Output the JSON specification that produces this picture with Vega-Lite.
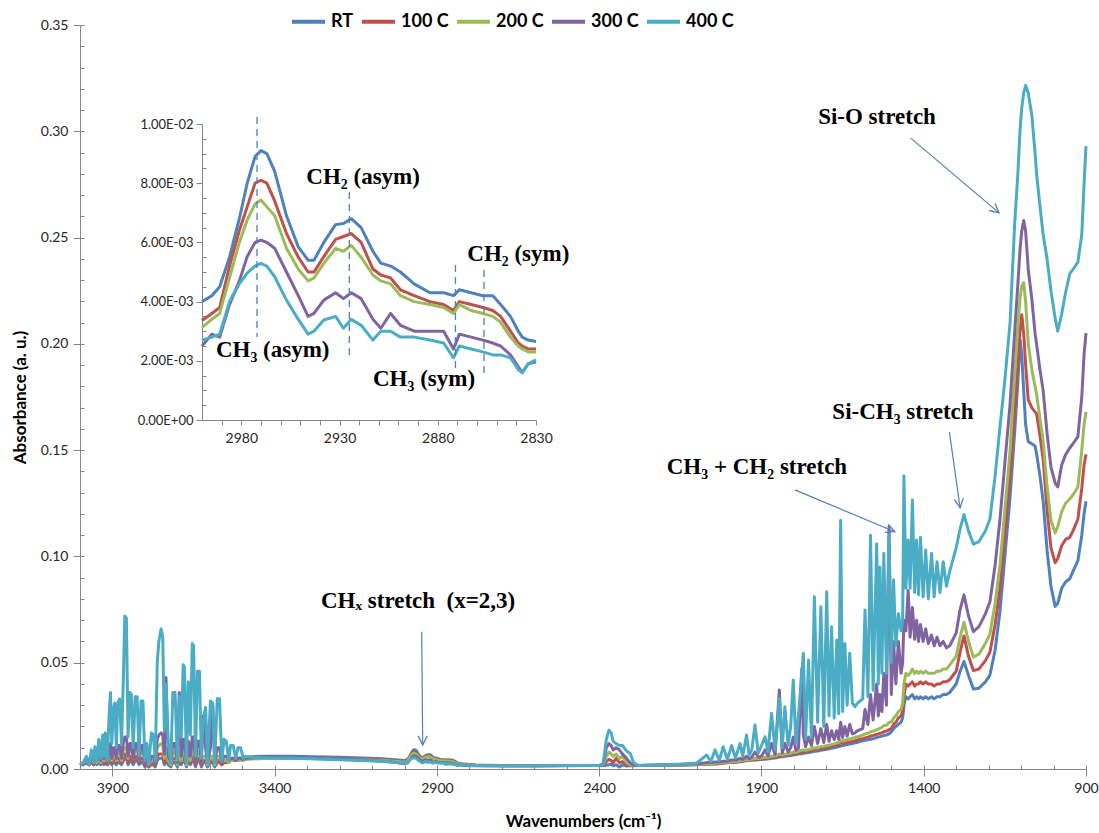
{
  "$schema": "https://vega.github.io/schema/vega-lite/v6.json",
  "width": 1006,
  "height": 744,
  "autosize": "none",
  "padding": {"left": 80, "top": 25, "right": 13, "bottom": 64},
  "background": "white",
  "config": {
    "view": {"stroke": null},
    "axis": {"grid": false, "domainColor": "#868686", "tickColor": "#868686", "labelColor": "#262626", "labelFont": "Lato", "titleFont": "Lato", "titleColor": "#000000", "labelOverlap": false}
  },
  "datasets": {
    "spectra": [
      {"w":4000,"RT":0.002,"100 C":0.002,"200 C":0.002,"300 C":0.002,"400 C":0.002},
      {"w":3990,"RT":0.002,"100 C":0.0025,"200 C":0.003,"300 C":0.003,"400 C":0.003},
      {"w":3980,"RT":0.003,"100 C":0.003,"200 C":0.004,"300 C":0.005,"400 C":0.006},
      {"w":3972,"RT":0.002,"100 C":0.002,"200 C":0.002,"300 C":0.002,"400 C":0.002},
      {"w":3965,"RT":0.003,"100 C":0.004,"200 C":0.005,"300 C":0.006,"400 C":0.009},
      {"w":3958,"RT":0.002,"100 C":0.002,"200 C":0.003,"300 C":0.003,"400 C":0.003},
      {"w":3954,"RT":0.003,"100 C":0.004,"200 C":0.005,"300 C":0.007,"400 C":0.0105},
      {"w":3948,"RT":0.002,"100 C":0.003,"200 C":0.003,"300 C":0.004,"400 C":0.004},
      {"w":3942,"RT":0.003,"100 C":0.004,"200 C":0.006,"300 C":0.008,"400 C":0.014},
      {"w":3936,"RT":0.002,"100 C":0.003,"200 C":0.003,"300 C":0.004,"400 C":0.005},
      {"w":3930,"RT":0.003,"100 C":0.004,"200 C":0.006,"300 C":0.009,"400 C":0.016},
      {"w":3926,"RT":0.002,"100 C":0.003,"200 C":0.004,"300 C":0.005,"400 C":0.006},
      {"w":3922,"RT":0.003,"100 C":0.004,"200 C":0.006,"300 C":0.009,"400 C":0.017},
      {"w":3916,"RT":0.002,"100 C":0.002,"200 C":0.003,"300 C":0.003,"400 C":0.004},
      {"w":3910,"RT":0.003,"100 C":0.005,"200 C":0.007,"300 C":0.010,"400 C":0.026},
      {"w":3906,"RT":0.004,"100 C":0.006,"200 C":0.008,"300 C":0.012,"400 C":0.036},
      {"w":3902,"RT":0.002,"100 C":0.003,"200 C":0.004,"300 C":0.005,"400 C":0.012},
      {"w":3897,"RT":0.003,"100 C":0.005,"200 C":0.007,"300 C":0.010,"400 C":0.028},
      {"w":3893,"RT":0.003,"100 C":0.005,"200 C":0.007,"300 C":0.010,"400 C":0.031},
      {"w":3888,"RT":0.002,"100 C":0.003,"200 C":0.004,"300 C":0.005,"400 C":0.010},
      {"w":3884,"RT":0.003,"100 C":0.005,"200 C":0.008,"300 C":0.011,"400 C":0.031},
      {"w":3878,"RT":0.003,"100 C":0.005,"200 C":0.008,"300 C":0.011,"400 C":0.033},
      {"w":3872,"RT":0.002,"100 C":0.003,"200 C":0.004,"300 C":0.005,"400 C":0.012},
      {"w":3866,"RT":0.004,"100 C":0.006,"200 C":0.009,"300 C":0.013,"400 C":0.045},
      {"w":3862,"RT":0.005,"100 C":0.007,"200 C":0.010,"300 C":0.015,"400 C":0.072},
      {"w":3857,"RT":0.005,"100 C":0.007,"200 C":0.010,"300 C":0.015,"400 C":0.071},
      {"w":3852,"RT":0.002,"100 C":0.003,"200 C":0.005,"300 C":0.006,"400 C":0.015},
      {"w":3846,"RT":0.004,"100 C":0.006,"200 C":0.010,"300 C":0.012,"400 C":0.036},
      {"w":3842,"RT":0.004,"100 C":0.006,"200 C":0.010,"300 C":0.012,"400 C":0.035},
      {"w":3836,"RT":0.002,"100 C":0.003,"200 C":0.005,"300 C":0.005,"400 C":0.010},
      {"w":3830,"RT":0.004,"100 C":0.006,"200 C":0.010,"300 C":0.012,"400 C":0.034},
      {"w":3824,"RT":0.004,"100 C":0.006,"200 C":0.010,"300 C":0.012,"400 C":0.034},
      {"w":3818,"RT":0.002,"100 C":0.003,"200 C":0.004,"300 C":0.004,"400 C":0.006},
      {"w":3812,"RT":0.003,"100 C":0.005,"200 C":0.009,"300 C":0.011,"400 C":0.032},
      {"w":3806,"RT":0.003,"100 C":0.005,"200 C":0.009,"300 C":0.011,"400 C":0.032},
      {"w":3800,"RT":0.001,"100 C":0.002,"200 C":0.003,"300 C":0.003,"400 C":0.004},
      {"w":3794,"RT":0.002,"100 C":0.003,"200 C":0.004,"300 C":0.005,"400 C":0.012},
      {"w":3788,"RT":0.001,"100 C":0.001,"200 C":0.002,"300 C":0.002,"400 C":0.002},
      {"w":3780,"RT":0.002,"100 C":0.003,"200 C":0.004,"300 C":0.006,"400 C":0.017},
      {"w":3774,"RT":0.002,"100 C":0.003,"200 C":0.004,"300 C":0.006,"400 C":0.016},
      {"w":3768,"RT":0.001,"100 C":0.002,"200 C":0.003,"300 C":0.003,"400 C":0.004},
      {"w":3762,"RT":0.004,"100 C":0.006,"200 C":0.010,"300 C":0.014,"400 C":0.050},
      {"w":3757,"RT":0.005,"100 C":0.007,"200 C":0.011,"300 C":0.016,"400 C":0.060},
      {"w":3750,"RT":0.005,"100 C":0.007,"200 C":0.012,"300 C":0.017,"400 C":0.066},
      {"w":3745,"RT":0.005,"100 C":0.007,"200 C":0.011,"300 C":0.016,"400 C":0.062},
      {"w":3740,"RT":0.002,"100 C":0.003,"200 C":0.005,"300 C":0.007,"400 C":0.018},
      {"w":3735,"RT":0.004,"100 C":0.006,"200 C":0.010,"300 C":0.043,"400 C":0.040},
      {"w":3728,"RT":0.002,"100 C":0.003,"200 C":0.004,"300 C":0.006,"400 C":0.012},
      {"w":3720,"RT":0.001,"100 C":0.002,"200 C":0.002,"300 C":0.003,"400 C":0.003},
      {"w":3714,"RT":0.003,"100 C":0.005,"200 C":0.008,"300 C":0.012,"400 C":0.036},
      {"w":3707,"RT":0.003,"100 C":0.005,"200 C":0.008,"300 C":0.012,"400 C":0.036},
      {"w":3700,"RT":0.001,"100 C":0.002,"200 C":0.002,"300 C":0.003,"400 C":0.004},
      {"w":3694,"RT":0.003,"100 C":0.005,"200 C":0.008,"300 C":0.036,"400 C":0.034},
      {"w":3688,"RT":0.002,"100 C":0.003,"200 C":0.004,"300 C":0.006,"400 C":0.015},
      {"w":3682,"RT":0.004,"100 C":0.006,"200 C":0.009,"300 C":0.014,"400 C":0.049},
      {"w":3678,"RT":0.004,"100 C":0.006,"200 C":0.009,"300 C":0.014,"400 C":0.048},
      {"w":3672,"RT":0.001,"100 C":0.002,"200 C":0.002,"300 C":0.003,"400 C":0.003},
      {"w":3666,"RT":0.004,"100 C":0.005,"200 C":0.008,"300 C":0.013,"400 C":0.041},
      {"w":3660,"RT":0.002,"100 C":0.003,"200 C":0.004,"300 C":0.006,"400 C":0.016},
      {"w":3654,"RT":0.004,"100 C":0.006,"200 C":0.010,"300 C":0.015,"400 C":0.059},
      {"w":3650,"RT":0.004,"100 C":0.006,"200 C":0.010,"300 C":0.015,"400 C":0.058},
      {"w":3644,"RT":0.001,"100 C":0.002,"200 C":0.003,"300 C":0.003,"400 C":0.006},
      {"w":3638,"RT":0.004,"100 C":0.005,"200 C":0.008,"300 C":0.013,"400 C":0.046},
      {"w":3632,"RT":0.004,"100 C":0.005,"200 C":0.008,"300 C":0.013,"400 C":0.046},
      {"w":3626,"RT":0.001,"100 C":0.002,"200 C":0.003,"300 C":0.003,"400 C":0.005},
      {"w":3621,"RT":0.003,"100 C":0.004,"200 C":0.006,"300 C":0.025,"400 C":0.022},
      {"w":3613,"RT":0.003,"100 C":0.004,"200 C":0.006,"300 C":0.010,"400 C":0.029},
      {"w":3607,"RT":0.001,"100 C":0.002,"200 C":0.002,"300 C":0.003,"400 C":0.003},
      {"w":3598,"RT":0.003,"100 C":0.004,"200 C":0.006,"300 C":0.010,"400 C":0.032},
      {"w":3591,"RT":0.003,"100 C":0.004,"200 C":0.006,"300 C":0.030,"400 C":0.031},
      {"w":3585,"RT":0.001,"100 C":0.002,"200 C":0.002,"300 C":0.003,"400 C":0.003},
      {"w":3577,"RT":0.003,"100 C":0.004,"200 C":0.006,"300 C":0.010,"400 C":0.033},
      {"w":3570,"RT":0.003,"100 C":0.004,"200 C":0.006,"300 C":0.010,"400 C":0.033},
      {"w":3563,"RT":0.002,"100 C":0.002,"200 C":0.003,"300 C":0.003,"400 C":0.004},
      {"w":3556,"RT":0.003,"100 C":0.003,"200 C":0.004,"300 C":0.006,"400 C":0.014},
      {"w":3549,"RT":0.003,"100 C":0.003,"200 C":0.004,"300 C":0.006,"400 C":0.013},
      {"w":3542,"RT":0.003,"100 C":0.003,"200 C":0.003,"300 C":0.004,"400 C":0.004},
      {"w":3536,"RT":0.004,"100 C":0.004,"200 C":0.004,"300 C":0.005,"400 C":0.011},
      {"w":3528,"RT":0.004,"100 C":0.004,"200 C":0.004,"300 C":0.005,"400 C":0.011},
      {"w":3520,"RT":0.004,"100 C":0.004,"200 C":0.004,"300 C":0.004,"400 C":0.005},
      {"w":3513,"RT":0.005,"100 C":0.004,"200 C":0.004,"300 C":0.005,"400 C":0.010},
      {"w":3505,"RT":0.005,"100 C":0.004,"200 C":0.004,"300 C":0.005,"400 C":0.010},
      {"w":3497,"RT":0.005,"100 C":0.0045,"200 C":0.004,"300 C":0.0045,"400 C":0.005},
      {"w":3490,"RT":0.0055,"100 C":0.005,"200 C":0.0045,"300 C":0.005,"400 C":0.006},
      {"w":3470,"RT":0.0058,"100 C":0.005,"200 C":0.0047,"300 C":0.0052,"400 C":0.0055},
      {"w":3420,"RT":0.006,"100 C":0.0052,"200 C":0.005,"300 C":0.0055,"400 C":0.0052},
      {"w":3350,"RT":0.006,"100 C":0.0052,"200 C":0.005,"300 C":0.0053,"400 C":0.005},
      {"w":3280,"RT":0.0058,"100 C":0.005,"200 C":0.0048,"300 C":0.005,"400 C":0.0048},
      {"w":3200,"RT":0.0055,"100 C":0.0048,"200 C":0.0045,"300 C":0.0046,"400 C":0.0044},
      {"w":3130,"RT":0.0052,"100 C":0.0046,"200 C":0.0043,"300 C":0.0042,"400 C":0.004},
      {"w":3070,"RT":0.0048,"100 C":0.0043,"200 C":0.004,"300 C":0.0037,"400 C":0.0036},
      {"w":3030,"RT":0.0044,"100 C":0.0039,"200 C":0.0037,"300 C":0.0032,"400 C":0.0032},
      {"w":3000,"RT":0.004,"100 C":0.00336,"200 C":0.00313,"300 C":0.0025,"400 C":0.0027},
      {"w":2995,"RT":0.0042,"100 C":0.0036,"200 C":0.0034,"300 C":0.0029,"400 C":0.0028},
      {"w":2991,"RT":0.0045,"100 C":0.0038,"200 C":0.0036,"300 C":0.0028,"400 C":0.0029},
      {"w":2986,"RT":0.0055,"100 C":0.0052,"200 C":0.0048,"300 C":0.0039,"400 C":0.004},
      {"w":2981,"RT":0.0068,"100 C":0.0064,"200 C":0.006,"300 C":0.0047,"400 C":0.0046},
      {"w":2977,"RT":0.008,"100 C":0.0072,"200 C":0.00676,"300 C":0.00552,"400 C":0.00496},
      {"w":2973,"RT":0.0089,"100 C":0.008,"200 C":0.0073,"300 C":0.006,"400 C":0.0052},
      {"w":2970,"RT":0.0091,"100 C":0.0081,"200 C":0.00743,"300 C":0.00608,"400 C":0.00529},
      {"w":2967,"RT":0.009,"100 C":0.008,"200 C":0.0072,"300 C":0.006,"400 C":0.0052},
      {"w":2963,"RT":0.0084,"100 C":0.0074,"200 C":0.0069,"300 C":0.0058,"400 C":0.00484},
      {"w":2957,"RT":0.0069,"100 C":0.0063,"200 C":0.0058,"300 C":0.005,"400 C":0.00405},
      {"w":2951,"RT":0.00585,"100 C":0.0055,"200 C":0.0051,"300 C":0.0042,"400 C":0.0034},
      {"w":2946,"RT":0.0054,"100 C":0.005,"200 C":0.0047,"300 C":0.0035,"400 C":0.0029},
      {"w":2943,"RT":0.0054,"100 C":0.005,"200 C":0.0048,"300 C":0.0036,"400 C":0.003},
      {"w":2938,"RT":0.006,"100 C":0.00552,"200 C":0.00529,"300 C":0.00405,"400 C":0.00338},
      {"w":2932,"RT":0.0066,"100 C":0.0061,"200 C":0.0058,"300 C":0.0043,"400 C":0.0035},
      {"w":2928,"RT":0.00664,"100 C":0.0062,"200 C":0.0057,"300 C":0.0041,"400 C":0.0031},
      {"w":2924,"RT":0.0068,"100 C":0.0063,"200 C":0.0059,"300 C":0.0043,"400 C":0.0034},
      {"w":2919,"RT":0.0065,"100 C":0.006,"200 C":0.0055,"300 C":0.0041,"400 C":0.0032},
      {"w":2913,"RT":0.0057,"100 C":0.0051,"200 C":0.0049,"300 C":0.0034,"400 C":0.0027},
      {"w":2909,"RT":0.0053,"100 C":0.0049,"200 C":0.0047,"300 C":0.0031,"400 C":0.003},
      {"w":2904,"RT":0.0052,"100 C":0.0048,"200 C":0.0046,"300 C":0.0036,"400 C":0.003},
      {"w":2899,"RT":0.005,"100 C":0.0044,"200 C":0.0042,"300 C":0.0032,"400 C":0.0028},
      {"w":2892,"RT":0.0046,"100 C":0.0042,"200 C":0.004,"300 C":0.003,"400 C":0.0028},
      {"w":2884,"RT":0.0043,"100 C":0.004,"200 C":0.0039,"300 C":0.003,"400 C":0.0027},
      {"w":2877,"RT":0.0043,"100 C":0.0039,"200 C":0.0038,"300 C":0.003,"400 C":0.0026},
      {"w":2872,"RT":0.0042,"100 C":0.0037,"200 C":0.0036,"300 C":0.0024,"400 C":0.0021},
      {"w":2869,"RT":0.0044,"100 C":0.004,"200 C":0.0039,"300 C":0.0029,"400 C":0.0025},
      {"w":2863,"RT":0.0043,"100 C":0.0039,"200 C":0.0037,"300 C":0.0028,"400 C":0.0024},
      {"w":2857,"RT":0.0042,"100 C":0.0038,"200 C":0.0036,"300 C":0.0027,"400 C":0.0023},
      {"w":2852,"RT":0.0042,"100 C":0.0037,"200 C":0.0035,"300 C":0.0026,"400 C":0.0022},
      {"w":2848,"RT":0.0039,"100 C":0.0035,"200 C":0.0033,"300 C":0.0025,"400 C":0.0022},
      {"w":2843,"RT":0.0035,"100 C":0.003,"200 C":0.0028,"300 C":0.0022,"400 C":0.0021},
      {"w":2839,"RT":0.003,"100 C":0.0026,"200 C":0.0025,"300 C":0.0018,"400 C":0.0017},
      {"w":2837,"RT":0.0028,"100 C":0.0025,"200 C":0.0024,"300 C":0.0016,"400 C":0.0016},
      {"w":2834,"RT":0.0027,"100 C":0.0024,"200 C":0.0023,"300 C":0.0019,"400 C":0.0019},
      {"w":2830,"RT":0.00265,"100 C":0.0024,"200 C":0.0023,"300 C":0.00197,"400 C":0.00203},
      {"w":2815,"RT":0.0023,"100 C":0.0021,"200 C":0.002,"300 C":0.0017,"400 C":0.0018},
      {"w":2780,"RT":0.0019,"100 C":0.0018,"200 C":0.0017,"300 C":0.0015,"400 C":0.0016},
      {"w":2700,"RT":0.0017,"100 C":0.0016,"200 C":0.0016,"300 C":0.0014,"400 C":0.0015},
      {"w":2600,"RT":0.0016,"100 C":0.0016,"200 C":0.0015,"300 C":0.0014,"400 C":0.0015},
      {"w":2500,"RT":0.0016,"100 C":0.0016,"200 C":0.0016,"300 C":0.0015,"400 C":0.0016},
      {"w":2400,"RT":0.0016,"100 C":0.0016,"200 C":0.0016,"300 C":0.0016,"400 C":0.0017},
      {"w":2388,"RT":0.0016,"100 C":0.0017,"200 C":0.0018,"300 C":0.002,"400 C":0.0025},
      {"w":2378,"RT":0.0018,"100 C":0.0035,"200 C":0.006,"300 C":0.01,"400 C":0.014},
      {"w":2370,"RT":0.002,"100 C":0.0045,"200 C":0.008,"300 C":0.012,"400 C":0.0183},
      {"w":2363,"RT":0.0022,"100 C":0.004,"200 C":0.007,"300 C":0.011,"400 C":0.017},
      {"w":2357,"RT":0.0015,"100 C":0.003,"200 C":0.006,"300 C":0.009,"400 C":0.013},
      {"w":2348,"RT":0.002,"100 C":0.005,"200 C":0.007,"300 C":0.01,"400 C":0.012},
      {"w":2338,"RT":0.001,"100 C":0.003,"200 C":0.005,"300 C":0.009,"400 C":0.011},
      {"w":2328,"RT":0.002,"100 C":0.0035,"200 C":0.006,"300 C":0.007,"400 C":0.011},
      {"w":2316,"RT":0.0014,"100 C":0.002,"200 C":0.003,"300 C":0.005,"400 C":0.0085},
      {"w":2305,"RT":0.0015,"100 C":0.0017,"200 C":0.002,"300 C":0.003,"400 C":0.0074},
      {"w":2294,"RT":0.0015,"100 C":0.0016,"200 C":0.0017,"300 C":0.0018,"400 C":0.003},
      {"w":2280,"RT":0.0016,"100 C":0.0016,"200 C":0.0016,"300 C":0.0016,"400 C":0.0017},
      {"w":2200,"RT":0.0018,"100 C":0.0018,"200 C":0.0018,"300 C":0.0019,"400 C":0.002},
      {"w":2140,"RT":0.0019,"100 C":0.0019,"200 C":0.002,"300 C":0.0022,"400 C":0.0024},
      {"w":2100,"RT":0.002,"100 C":0.0021,"200 C":0.0022,"300 C":0.0025,"400 C":0.0028},
      {"w":2069,"RT":0.0022,"100 C":0.0023,"200 C":0.0025,"300 C":0.003,"400 C":0.0066},
      {"w":2056,"RT":0.0023,"100 C":0.0024,"200 C":0.0026,"300 C":0.003,"400 C":0.0035},
      {"w":2043,"RT":0.0024,"100 C":0.0025,"200 C":0.0027,"300 C":0.0033,"400 C":0.009},
      {"w":2030,"RT":0.0025,"100 C":0.0026,"200 C":0.0028,"300 C":0.0033,"400 C":0.004},
      {"w":2018,"RT":0.0027,"100 C":0.0028,"200 C":0.003,"300 C":0.0036,"400 C":0.0105},
      {"w":2005,"RT":0.0029,"100 C":0.003,"200 C":0.0032,"300 C":0.0037,"400 C":0.0045},
      {"w":1992,"RT":0.003,"100 C":0.0031,"200 C":0.0034,"300 C":0.0042,"400 C":0.011},
      {"w":1980,"RT":0.0032,"100 C":0.0033,"200 C":0.0036,"300 C":0.0042,"400 C":0.0052},
      {"w":1966,"RT":0.0034,"100 C":0.0036,"200 C":0.0039,"300 C":0.005,"400 C":0.012},
      {"w":1958,"RT":0.0035,"100 C":0.0037,"200 C":0.004,"300 C":0.0045,"400 C":0.006},
      {"w":1946,"RT":0.004,"100 C":0.0042,"200 C":0.0046,"300 C":0.006,"400 C":0.016},
      {"w":1938,"RT":0.004,"100 C":0.0042,"200 C":0.0044,"300 C":0.0048,"400 C":0.0065},
      {"w":1930,"RT":0.0041,"100 C":0.0043,"200 C":0.0046,"300 C":0.0055,"400 C":0.009},
      {"w":1920,"RT":0.0042,"100 C":0.0045,"200 C":0.005,"300 C":0.008,"400 C":0.0207},
      {"w":1910,"RT":0.0043,"100 C":0.0046,"200 C":0.0049,"300 C":0.0055,"400 C":0.0075},
      {"w":1900,"RT":0.0045,"100 C":0.0048,"200 C":0.0052,"300 C":0.006,"400 C":0.011},
      {"w":1889,"RT":0.0046,"100 C":0.005,"200 C":0.0056,"300 C":0.009,"400 C":0.0152},
      {"w":1880,"RT":0.0047,"100 C":0.005,"200 C":0.0054,"300 C":0.0062,"400 C":0.008},
      {"w":1869,"RT":0.005,"100 C":0.0054,"200 C":0.006,"300 C":0.012,"400 C":0.0262},
      {"w":1858,"RT":0.0052,"100 C":0.0056,"200 C":0.0061,"300 C":0.0068,"400 C":0.009},
      {"w":1845,"RT":0.0056,"100 C":0.006,"200 C":0.007,"300 C":0.0372,"400 C":0.033},
      {"w":1836,"RT":0.0058,"100 C":0.0062,"200 C":0.0066,"300 C":0.0075,"400 C":0.01},
      {"w":1828,"RT":0.006,"100 C":0.0065,"200 C":0.007,"300 C":0.012,"400 C":0.0293},
      {"w":1818,"RT":0.0062,"100 C":0.0067,"200 C":0.0072,"300 C":0.008,"400 C":0.011},
      {"w":1810,"RT":0.0064,"100 C":0.0069,"200 C":0.0075,"300 C":0.01,"400 C":0.02},
      {"w":1802,"RT":0.0066,"100 C":0.0072,"200 C":0.008,"300 C":0.015,"400 C":0.0419},
      {"w":1794,"RT":0.0068,"100 C":0.0073,"200 C":0.0078,"300 C":0.0088,"400 C":0.012},
      {"w":1786,"RT":0.007,"100 C":0.0076,"200 C":0.0083,"300 C":0.0098,"400 C":0.025},
      {"w":1776,"RT":0.0072,"100 C":0.0079,"200 C":0.0088,"300 C":0.047,"400 C":0.045},
      {"w":1771,"RT":0.0074,"100 C":0.008,"200 C":0.009,"300 C":0.016,"400 C":0.0544},
      {"w":1764,"RT":0.0075,"100 C":0.0081,"200 C":0.0088,"300 C":0.0105,"400 C":0.014},
      {"w":1755,"RT":0.0078,"100 C":0.0084,"200 C":0.0092,"300 C":0.015,"400 C":0.0513},
      {"w":1746,"RT":0.008,"100 C":0.0087,"200 C":0.0095,"300 C":0.011,"400 C":0.015},
      {"w":1737,"RT":0.0083,"100 C":0.009,"200 C":0.01,"300 C":0.02,"400 C":0.081},
      {"w":1727,"RT":0.0085,"100 C":0.0093,"200 C":0.01,"300 C":0.012,"400 C":0.022},
      {"w":1717,"RT":0.0088,"100 C":0.0096,"200 C":0.0105,"300 C":0.019,"400 C":0.0763},
      {"w":1708,"RT":0.009,"100 C":0.0098,"200 C":0.0107,"300 C":0.0125,"400 C":0.02},
      {"w":1699,"RT":0.0093,"100 C":0.01,"200 C":0.011,"300 C":0.021,"400 C":0.0834},
      {"w":1692,"RT":0.0095,"100 C":0.0103,"200 C":0.0112,"300 C":0.013,"400 C":0.025},
      {"w":1684,"RT":0.0098,"100 C":0.0106,"200 C":0.0116,"300 C":0.018,"400 C":0.0669},
      {"w":1676,"RT":0.01,"100 C":0.0108,"200 C":0.0118,"300 C":0.0138,"400 C":0.024},
      {"w":1668,"RT":0.0103,"100 C":0.0112,"200 C":0.0123,"300 C":0.018,"400 C":0.0607},
      {"w":1662,"RT":0.0105,"100 C":0.0114,"200 C":0.0125,"300 C":0.014,"400 C":0.026},
      {"w":1656,"RT":0.0108,"100 C":0.0125,"200 C":0.0135,"300 C":0.022,"400 C":0.117},
      {"w":1650,"RT":0.011,"100 C":0.012,"200 C":0.0132,"300 C":0.0148,"400 C":0.027},
      {"w":1643,"RT":0.0113,"100 C":0.0123,"200 C":0.0135,"300 C":0.02,"400 C":0.059},
      {"w":1636,"RT":0.0115,"100 C":0.0125,"200 C":0.0138,"300 C":0.0155,"400 C":0.03},
      {"w":1628,"RT":0.0118,"100 C":0.0128,"200 C":0.0142,"300 C":0.021,"400 C":0.0544},
      {"w":1620,"RT":0.012,"100 C":0.013,"200 C":0.0145,"300 C":0.0165,"400 C":0.031},
      {"w":1612,"RT":0.0123,"100 C":0.0133,"200 C":0.0148,"300 C":0.017,"400 C":0.0293},
      {"w":1604,"RT":0.0126,"100 C":0.0137,"200 C":0.0152,"300 C":0.018,"400 C":0.031},
      {"w":1596,"RT":0.013,"100 C":0.014,"200 C":0.0155,"300 C":0.0185,"400 C":0.032},
      {"w":1588,"RT":0.0133,"100 C":0.0143,"200 C":0.016,"300 C":0.019,"400 C":0.033},
      {"w":1581,"RT":0.0135,"100 C":0.0146,"200 C":0.0165,"300 C":0.028,"400 C":0.0748},
      {"w":1572,"RT":0.0138,"100 C":0.015,"200 C":0.0168,"300 C":0.021,"400 C":0.034},
      {"w":1564,"RT":0.014,"100 C":0.0155,"200 C":0.0175,"300 C":0.035,"400 C":0.11},
      {"w":1556,"RT":0.0143,"100 C":0.0158,"200 C":0.0178,"300 C":0.023,"400 C":0.037},
      {"w":1545,"RT":0.0148,"100 C":0.0163,"200 C":0.0185,"300 C":0.04,"400 C":0.106},
      {"w":1540,"RT":0.015,"100 C":0.0165,"200 C":0.0187,"300 C":0.025,"400 C":0.04},
      {"w":1535,"RT":0.0152,"100 C":0.0168,"200 C":0.0192,"300 C":0.035,"400 C":0.095},
      {"w":1529,"RT":0.0155,"100 C":0.017,"200 C":0.0195,"300 C":0.027,"400 C":0.045},
      {"w":1523,"RT":0.0158,"100 C":0.0175,"200 C":0.0205,"300 C":0.045,"400 C":0.1015},
      {"w":1515,"RT":0.016,"100 C":0.0178,"200 C":0.0205,"300 C":0.03,"400 C":0.045},
      {"w":1507,"RT":0.0165,"100 C":0.0185,"200 C":0.022,"300 C":0.114,"400 C":0.11},
      {"w":1500,"RT":0.0175,"100 C":0.019,"200 C":0.022,"300 C":0.035,"400 C":0.05},
      {"w":1493,"RT":0.019,"100 C":0.021,"200 C":0.024,"300 C":0.06,"400 C":0.089},
      {"w":1486,"RT":0.02,"100 C":0.022,"200 C":0.025,"300 C":0.04,"400 C":0.058},
      {"w":1478,"RT":0.021,"100 C":0.024,"200 C":0.027,"300 C":0.06,"400 C":0.073},
      {"w":1470,"RT":0.022,"100 C":0.025,"200 C":0.028,"300 C":0.045,"400 C":0.065},
      {"w":1465,"RT":0.024,"100 C":0.027,"200 C":0.031,"300 C":0.05,"400 C":0.07},
      {"w":1461,"RT":0.03,"100 C":0.034,"200 C":0.04,"300 C":0.07,"400 C":0.138},
      {"w":1455,"RT":0.034,"100 C":0.04,"200 C":0.045,"300 C":0.065,"400 C":0.085},
      {"w":1448,"RT":0.033,"100 C":0.039,"200 C":0.044,"300 C":0.084,"400 C":0.1077},
      {"w":1442,"RT":0.034,"100 C":0.04,"200 C":0.045,"300 C":0.062,"400 C":0.085},
      {"w":1435,"RT":0.035,"100 C":0.041,"200 C":0.047,"300 C":0.076,"400 C":0.1265},
      {"w":1428,"RT":0.033,"100 C":0.039,"200 C":0.045,"300 C":0.061,"400 C":0.083},
      {"w":1422,"RT":0.034,"100 C":0.04,"200 C":0.046,"300 C":0.07,"400 C":0.1077},
      {"w":1416,"RT":0.033,"100 C":0.04,"200 C":0.045,"300 C":0.06,"400 C":0.082},
      {"w":1410,"RT":0.034,"100 C":0.041,"200 C":0.046,"300 C":0.068,"400 C":0.109},
      {"w":1402,"RT":0.033,"100 C":0.04,"200 C":0.045,"300 C":0.06,"400 C":0.081},
      {"w":1394,"RT":0.034,"100 C":0.041,"200 C":0.046,"300 C":0.066,"400 C":0.103},
      {"w":1386,"RT":0.033,"100 C":0.04,"200 C":0.045,"300 C":0.059,"400 C":0.08},
      {"w":1376,"RT":0.034,"100 C":0.04,"200 C":0.045,"300 C":0.063,"400 C":0.1015},
      {"w":1368,"RT":0.033,"100 C":0.039,"200 C":0.045,"300 C":0.058,"400 C":0.081},
      {"w":1359,"RT":0.034,"100 C":0.04,"200 C":0.046,"300 C":0.062,"400 C":0.0975},
      {"w":1350,"RT":0.034,"100 C":0.04,"200 C":0.046,"300 C":0.058,"400 C":0.083},
      {"w":1340,"RT":0.035,"100 C":0.041,"200 C":0.047,"300 C":0.06,"400 C":0.0975},
      {"w":1330,"RT":0.035,"100 C":0.041,"200 C":0.047,"300 C":0.057,"400 C":0.086},
      {"w":1320,"RT":0.036,"100 C":0.042,"200 C":0.049,"300 C":0.058,"400 C":0.093},
      {"w":1300,"RT":0.04,"100 C":0.046,"200 C":0.053,"300 C":0.064,"400 C":0.104},
      {"w":1288,"RT":0.046,"100 C":0.055,"200 C":0.062,"300 C":0.075,"400 C":0.113},
      {"w":1276,"RT":0.0506,"100 C":0.0626,"200 C":0.069,"300 C":0.0819,"400 C":0.1197},
      {"w":1262,"RT":0.044,"100 C":0.053,"200 C":0.06,"300 C":0.072,"400 C":0.112},
      {"w":1247,"RT":0.0376,"100 C":0.0463,"200 C":0.0527,"300 C":0.0646,"400 C":0.1058},
      {"w":1230,"RT":0.038,"100 C":0.047,"200 C":0.054,"300 C":0.067,"400 C":0.107},
      {"w":1210,"RT":0.041,"100 C":0.051,"200 C":0.059,"300 C":0.073,"400 C":0.112},
      {"w":1196,"RT":0.0442,"100 C":0.055,"200 C":0.0635,"300 C":0.0787,"400 C":0.1176},
      {"w":1180,"RT":0.056,"100 C":0.068,"200 C":0.078,"300 C":0.096,"400 C":0.138},
      {"w":1165,"RT":0.0743,"100 C":0.085,"200 C":0.096,"300 C":0.1176,"400 C":0.161},
      {"w":1150,"RT":0.1,"100 C":0.111,"200 C":0.122,"300 C":0.144,"400 C":0.183},
      {"w":1134,"RT":0.128,"100 C":0.139,"200 C":0.15,"300 C":0.1717,"400 C":0.21},
      {"w":1120,"RT":0.158,"100 C":0.168,"200 C":0.185,"300 C":0.205,"400 C":0.256},
      {"w":1110,"RT":0.182,"100 C":0.19,"200 C":0.208,"300 C":0.228,"400 C":0.28},
      {"w":1103,"RT":0.2018,"100 C":0.207,"200 C":0.222,"300 C":0.245,"400 C":0.301},
      {"w":1098,"RT":0.195,"100 C":0.2137,"200 C":0.227,"300 C":0.253,"400 C":0.311},
      {"w":1092,"RT":0.178,"100 C":0.205,"200 C":0.2288,"300 C":0.258,"400 C":0.318},
      {"w":1086,"RT":0.162,"100 C":0.19,"200 C":0.22,"300 C":0.253,"400 C":0.3216},
      {"w":1078,"RT":0.154,"100 C":0.1737,"200 C":0.2,"300 C":0.235,"400 C":0.318},
      {"w":1067,"RT":0.153,"100 C":0.17,"200 C":0.188,"300 C":0.2212,"400 C":0.3077},
      {"w":1057,"RT":0.152,"100 C":0.168,"200 C":0.18,"300 C":0.205,"400 C":0.29},
      {"w":1052,"RT":0.148,"100 C":0.167,"200 C":0.176,"300 C":0.1996,"400 C":0.2795},
      {"w":1042,"RT":0.138,"100 C":0.157,"200 C":0.165,"300 C":0.188,"400 C":0.265},
      {"w":1032,"RT":0.126,"100 C":0.1456,"200 C":0.154,"300 C":0.178,"400 C":0.2514},
      {"w":1020,"RT":0.103,"100 C":0.122,"200 C":0.133,"300 C":0.158,"400 C":0.24},
      {"w":1008,"RT":0.086,"100 C":0.104,"200 C":0.117,"300 C":0.142,"400 C":0.225},
      {"w":995,"RT":0.0765,"100 C":0.097,"200 C":0.111,"300 C":0.1345,"400 C":0.212},
      {"w":987,"RT":0.078,"100 C":0.099,"200 C":0.114,"300 C":0.1327,"400 C":0.206},
      {"w":975,"RT":0.085,"100 C":0.105,"200 C":0.121,"300 C":0.143,"400 C":0.214},
      {"w":963,"RT":0.088,"100 C":0.108,"200 C":0.125,"300 C":0.1478,"400 C":0.224},
      {"w":950,"RT":0.0895,"100 C":0.109,"200 C":0.127,"300 C":0.151,"400 C":0.233},
      {"w":940,"RT":0.093,"100 C":0.112,"200 C":0.129,"300 C":0.153,"400 C":0.235},
      {"w":925,"RT":0.098,"100 C":0.1176,"200 C":0.1327,"300 C":0.1564,"400 C":0.2385},
      {"w":913,"RT":0.11,"100 C":0.132,"200 C":0.15,"300 C":0.175,"400 C":0.2514},
      {"w":906,"RT":0.12,"100 C":0.143,"200 C":0.162,"300 C":0.195,"400 C":0.275},
      {"w":900,"RT":0.126,"100 C":0.148,"200 C":0.168,"300 C":0.205,"400 C":0.293}
    ],
    "notes": [
      {"label": "CHₓ stretch\u00a0\u00a0(x=2,3)", "w": 2958, "v": 0.079},
      {"label": "CH₃ + CH₂ stretch", "w": 1914, "v": 0.142},
      {"label": "Si-CH₃ stretch", "w": 1464, "v": 0.168},
      {"label": "Si-O stretch", "w": 1544, "v": 0.3067}
    ],
    "arrows": [
      {"name": "CHx", "w1": 2947, "v1": 0.0646, "w2": 2944, "v2": 0.0113},
      {"name": "CH", "w1": 1797, "v1": 0.1313, "w2": 1489, "v2": 0.1116},
      {"name": "SiCH3", "w1": 1321, "v1": 0.1586, "w2": 1288, "v2": 0.1229},
      {"name": "SiO", "w1": 1440, "v1": 0.2968, "w2": 1168, "v2": 0.2616}
    ],
    "insetNotes": [
      {"label": "CH₃ (asym)", "w": 2964, "v": 0.00236},
      {"label": "CH₂ (asym)", "w": 2918, "v": 0.00821},
      {"label": "CH₂ (sym)", "w": 2839, "v": 0.00561},
      {"label": "CH₃ (sym)", "w": 2887, "v": 0.00139}
    ],
    "peakGuides": [
      {"w": 2972, "top": 0.01024, "bottom": 0.0028},
      {"w": 2925, "top": 0.0077, "bottom": 0.0022},
      {"w": 2871, "top": 0.00524, "bottom": 0.00176},
      {"w": 2856.5, "top": 0.00507, "bottom": 0.00142}
    ],
    "axisAnchor": [{"w": 900, "absorbance": 0}]
  },
  "layer": [
    {
      "layer": [
        {
          "data": {"name": "spectra"},
          "transform": [{"fold": ["RT", "100 C", "200 C", "300 C", "400 C"], "as": ["series", "absorbance"]}],
          "mark": {"type": "line", "strokeWidth": 3, "strokeJoin": "round"},
          "encoding": {
            "x": {
              "field": "w", "type": "quantitative",
              "scale": {"domain": [4000, 900], "nice": false, "zero": false},
              "axis": {
                "orient": "bottom",
                "values": [900, 1400, 1900, 2400, 2900, 3400, 3900],
                "format": "d",
                "tickSize": 7,
                "labelPadding": 5,
                "labelFontSize": 14,
                "labelFlush": false,
                "labelOverlap": false,
                "title": "Wavenumbers (cm⁻¹)",
                "titleFontSize": 17,
                "titleFontWeight": "bold",
                "titleX": 503,
                "titleY": 52,
                "titleBaseline": "middle"
              }
            },
            "y": {
              "field": "absorbance", "type": "quantitative",
              "scale": {"domain": [0, 0.35], "nice": false, "zero": true},
              "axis": {
                "orient": "left",
                "values": [0, 0.05, 0.1, 0.15, 0.2, 0.25, 0.3, 0.35],
                "format": ".2f",
                "tickSize": 7,
                "labelPadding": 5,
                "labelFontSize": 14,
                "labelFlush": false,
                "labelOverlap": false,
                "title": "Absorbance (a. u.)",
                "titleFontSize": 17,
                "titleFontWeight": "bold",
                "titleX": -60,
                "titleY": 372,
                "titleAngle": -90,
                "titleBaseline": "middle"
              }
            },
            "color": {
              "field": "series", "type": "nominal",
              "scale": {"domain": ["RT", "100 C", "200 C", "300 C", "400 C"], "range": ["#4F81BD", "#C0504D", "#9BBB59", "#8064A2", "#4BACC6"]},
              "legend": {
                "orient": "none", "legendX": 210, "legendY": -22,
                "direction": "horizontal", "columns": 5, "title": null,
                "symbolType": "stroke", "symbolSize": 1089, "symbolStrokeWidth": 4,
                "labelFont": "Lato", "labelFontSize": 18, "labelFontWeight": "bold", "labelColor": "#000000",
                "labelOffset": 4, "columnPadding": 0, "padding": 0
              }
            }
          }
        },
        {
          "data": {"name": "axisAnchor"},
          "mark": {"type": "point", "opacity": 0},
          "encoding": {
            "x": {
              "field": "w", "type": "quantitative",
              "axis": {
                "orient": "top", "offset": -744,
                "values": [900,1000,1100,1200,1300,1400,1500,1600,1700,1800,1900,2000,2100,2200,2300,2400,2500,2600,2700,2800,2900,3000,3100,3200,3300,3400,3500,3600,3700,3800,3900],
                "domain": false, "labels": false, "tickSize": 4, "title": null
              }
            },
            "y": {
              "field": "absorbance", "type": "quantitative",
              "axis": {
                "orient": "right", "offset": -1006,
                "values": [0.01,0.02,0.03,0.04,0.05,0.06,0.07,0.08,0.09,0.1,0.11,0.12,0.13,0.14,0.15,0.16,0.17,0.18,0.19,0.2,0.21,0.22,0.23,0.24,0.25,0.26,0.27,0.28,0.29,0.3,0.31,0.32,0.33,0.34,0.35],
                "domain": false, "labels": false, "tickSize": 4, "title": null
              }
            }
          }
        },
        {
          "data": {"name": "arrows"},
          "mark": {"type": "rule", "color": "#4F81BD", "strokeWidth": 1.2},
          "encoding": {
            "x": {"field": "w1", "type": "quantitative", "axis": null},
            "y": {"field": "v1", "type": "quantitative", "axis": null},
            "x2": {"field": "w2"},
            "y2": {"field": "v2"}
          }
        },
        {
          "data": {"name": "arrows"},
          "transform": [{"filter": "datum.name == 'CHx'"}],
          "mark": {"type": "point", "shape": "M-0.5,1L0,0L0.5,1", "filled": false, "size": 330, "angle": 180, "color": "#4F81BD", "strokeWidth": 1.3, "opacity": 1},
          "encoding": {"x": {"field": "w2", "type": "quantitative", "axis": null}, "y": {"field": "v2", "type": "quantitative", "axis": null}}
        },
        {
          "data": {"name": "arrows"},
          "transform": [{"filter": "datum.name == 'CH'"}],
          "mark": {"type": "point", "shape": "M-0.5,1L0,0L0.5,1", "filled": false, "size": 330, "angle": 112.6, "color": "#4F81BD", "strokeWidth": 1.3, "opacity": 1},
          "encoding": {"x": {"field": "w2", "type": "quantitative", "axis": null}, "y": {"field": "v2", "type": "quantitative", "axis": null}}
        },
        {
          "data": {"name": "arrows"},
          "transform": [{"filter": "datum.name == 'SiCH3'"}],
          "mark": {"type": "point", "shape": "M-0.5,1L0,0L0.5,1", "filled": false, "size": 330, "angle": 172, "color": "#4F81BD", "strokeWidth": 1.3, "opacity": 1},
          "encoding": {"x": {"field": "w2", "type": "quantitative", "axis": null}, "y": {"field": "v2", "type": "quantitative", "axis": null}}
        },
        {
          "data": {"name": "arrows"},
          "transform": [{"filter": "datum.name == 'SiO'"}],
          "mark": {"type": "point", "shape": "M-0.5,1L0,0L0.5,1", "filled": false, "size": 330, "angle": 130.3, "color": "#4F81BD", "strokeWidth": 1.3, "opacity": 1},
          "encoding": {"x": {"field": "w2", "type": "quantitative", "axis": null}, "y": {"field": "v2", "type": "quantitative", "axis": null}}
        },
        {
          "data": {"name": "notes"},
          "mark": {"type": "text", "font": "Liberation Serif", "fontWeight": "bold", "fontSize": 23, "align": "center", "baseline": "middle", "color": "#000000"},
          "encoding": {
            "x": {"field": "w", "type": "quantitative", "axis": null},
            "y": {"field": "v", "type": "quantitative", "axis": null},
            "text": {"field": "label"}
          }
        }
      ],
      "resolve": {"axis": {"x": "independent", "y": "independent"}}
    },
    {
      "layer": [
        {
          "data": {"name": "spectra"},
          "transform": [
            {"filter": "datum.w <= 3000 && datum.w >= 2830"},
            {"fold": ["RT", "100 C", "200 C", "300 C", "400 C"], "as": ["series", "absorbance"]}
          ],
          "mark": {"type": "line", "strokeWidth": 3, "strokeJoin": "round"},
          "encoding": {
            "x": {
              "field": "w", "type": "quantitative",
              "scale": {"domain": [3000, 2830], "range": [122, 456], "nice": false, "zero": false},
              "axis": {
                "orient": "bottom", "offset": -349,
                "values": [2830,2840,2850,2860,2870,2880,2890,2900,2910,2920,2930,2940,2950,2960,2970,2980,2990],
                "format": "d",
                "labelExpr": "(datum.value - 2830) % 50 == 0 ? datum.label : ''",
                "tickSize": 5,
                "labelPadding": 6,
                "labelFontSize": 14,
                "labelFlush": false,
                "labelOverlap": false,
                "title": null
              }
            },
            "y": {
              "field": "absorbance", "type": "quantitative",
              "scale": {"domain": [0, 0.01], "range": [395, 99], "nice": false},
              "axis": {
                "orient": "left", "offset": -122,
                "values": [0, 0.002, 0.004, 0.006, 0.008, 0.01],
                "labelExpr": "datum.value == 0 ? '0.00E+00' : (datum.value > 0.0099 ? '1.00E-02' : format(datum.value * 1000, '.2f') + 'E-03')",
                "tickSize": 6,
                "labelPadding": 3,
                "labelFontSize": 13,
                "labelFlush": false,
                "labelOverlap": false,
                "title": null
              }
            },
            "color": {"field": "series", "type": "nominal", "legend": null}
          }
        },
        {
          "data": {"name": "axisAnchor"},
          "transform": [{"filter": "false"}],
          "mark": {"type": "point", "opacity": 0},
          "encoding": {
            "x": {"field": "w", "type": "quantitative", "axis": null},
            "y": {
              "field": "absorbance", "type": "quantitative",
              "axis": {
                "orient": "right", "offset": -884,
                "values": [0.0005,0.001,0.0015,0.0025,0.003,0.0035,0.0045,0.005,0.0055,0.0065,0.007,0.0075,0.0085,0.009,0.0095],
                "domain": false, "labels": false, "tickSize": 4, "title": null
              }
            }
          }
        },
        {
          "data": {"name": "peakGuides"},
          "mark": {"type": "rule", "color": "#4F81BD", "strokeWidth": 1.3, "strokeDash": [7, 5]},
          "encoding": {
            "x": {"field": "w", "type": "quantitative", "axis": null},
            "y": {"field": "top", "type": "quantitative", "axis": null},
            "y2": {"field": "bottom"}
          }
        },
        {
          "data": {"name": "insetNotes"},
          "mark": {"type": "text", "font": "Liberation Serif", "fontWeight": "bold", "fontSize": 23, "align": "center", "baseline": "middle", "color": "#000000"},
          "encoding": {
            "x": {"field": "w", "type": "quantitative", "axis": null},
            "y": {"field": "v", "type": "quantitative", "axis": null},
            "text": {"field": "label"}
          }
        }
      ],
      "resolve": {"axis": {"x": "independent", "y": "independent"}}
    }
  ],
  "resolve": {"scale": {"x": "independent", "y": "independent"}, "axis": {"x": "independent", "y": "independent"}}
}
